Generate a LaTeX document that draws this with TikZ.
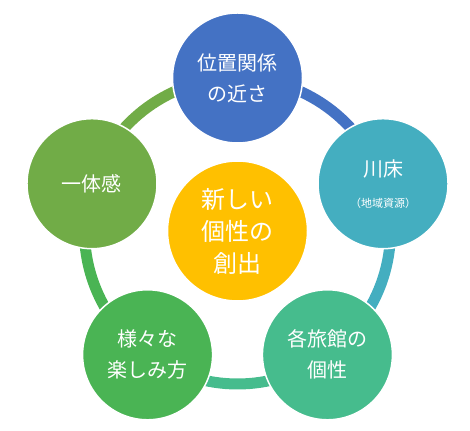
\documentclass[tikz,border=0pt]{standalone}
\usepackage{fontspec}
\usetikzlibrary{calc}
\newfontfamily\jp{Noto Sans CJK JP}
\definecolor{cblue}{HTML}{4472C4}
\definecolor{cteal}{HTML}{44AEC0}
\definecolor{cmint}{HTML}{46BC8D}
\definecolor{cgreen}{HTML}{4AB454}
\definecolor{colive}{HTML}{71AC47}
\definecolor{cyellow}{HTML}{FFC000}
\begin{document}
\begin{tikzpicture}[x=1pt,y=1pt,
  bubble/.style={circle,draw=white,line width=1.5pt,minimum size=130pt,inner sep=0pt,
    text=white,align=center,font=\jp\fontsize{20}{31}\selectfont},
  hub/.style={bubble,minimum size=140pt,font=\jp\fontsize{24}{32}\selectfont},
  ring/.style={line width=11pt}]
\useasboundingbox (0,0) rectangle (470,430);
\coordinate (c) at (237.5,199);
\def\R{153}
\draw[ring,cblue]  (c) ++(90:\R) arc[start angle=90,end angle=18,radius=\R];
\draw[ring,cteal]  (c) ++(18:\R) arc[start angle=18,end angle=-54,radius=\R];
\draw[ring,cmint]  (c) ++(-54:\R) arc[start angle=-54,end angle=-126,radius=\R];
\draw[ring,cgreen] (c) ++(-126:\R) arc[start angle=-126,end angle=-198,radius=\R];
\draw[ring,colive] (c) ++(162:\R) arc[start angle=162,end angle=90,radius=\R];
\node[hub,fill=cyellow] (hubn) at (c) {新しい\\個性の\\創出};
\node[bubble,fill=cblue] (n1) at ($(c)+(90:\R)$) {位置関係\\の近さ};
\node[bubble,fill=cteal] (n2) at ($(c)+(18:\R)$) {川床\\{\fontsize{11}{14}\selectfont （地域資源）}};
\node[bubble,fill=cmint] (n3) at ($(c)+(-54:\R)$) {各旅館の\\個性};
\node[bubble,fill=cgreen] (n4) at ($(c)+(-126:\R)$) {様々な\\楽しみ方};
\node[bubble,fill=colive] (n5) at ($(c)+(162:\R)$) {一体感};
\end{tikzpicture}
\end{document}
